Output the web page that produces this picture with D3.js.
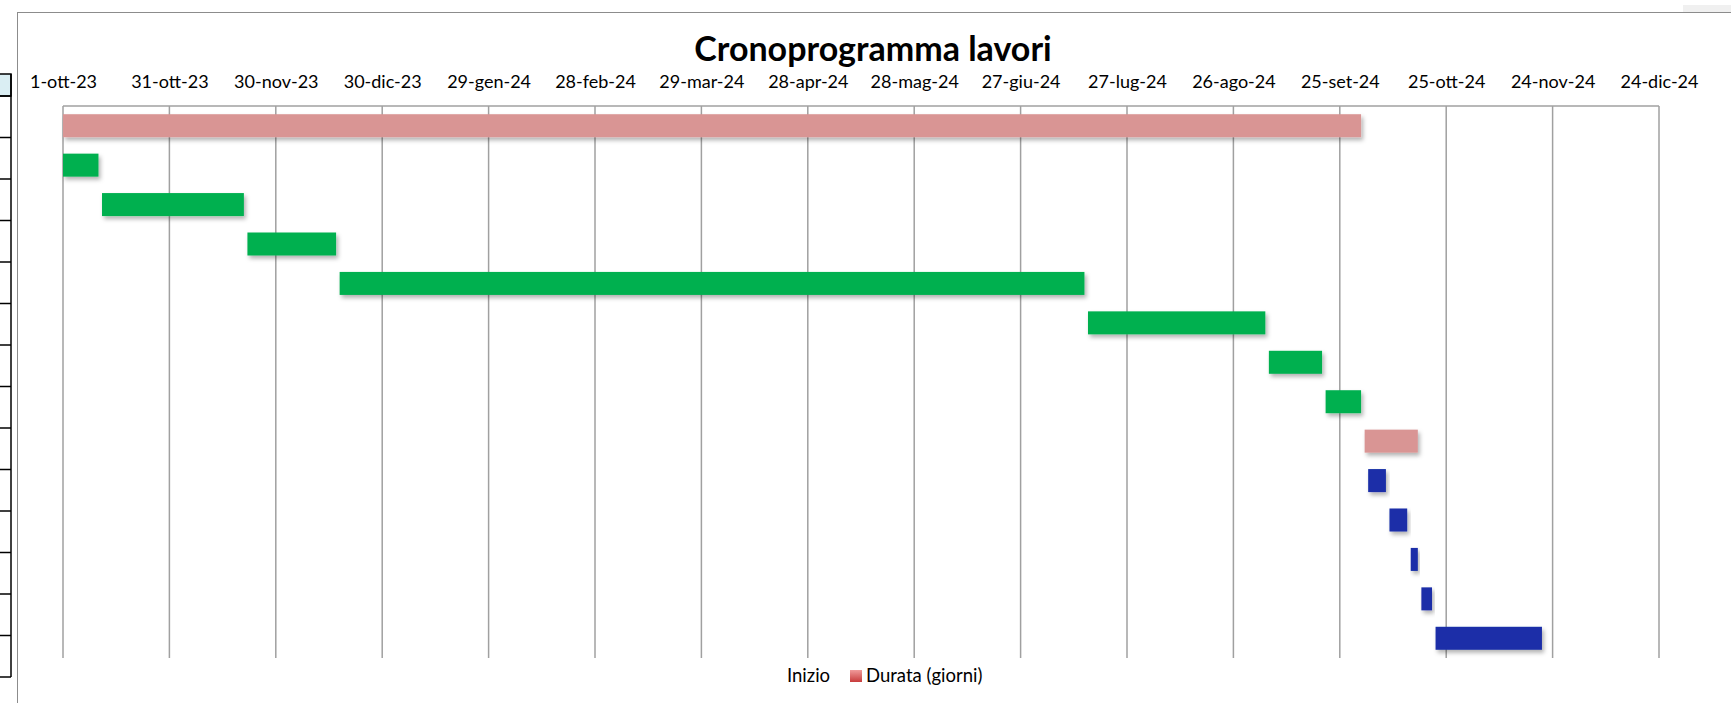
<!DOCTYPE html>
<html lang="it">
<head>
  <meta charset="utf-8">
  <title>Cronoprogramma lavori</title>
  <script src="https://d3js.org/d3.v7.min.js"></script>
  <style>
    html, body {
      margin: 0;
      padding: 0;
      width: 100%;
      height: 100%;
      background: #fff;
      overflow: hidden;
    }
    svg {
      display: block;
      font-family: Lato, "Open Sans", sans-serif;
    }
    .grid line {
      stroke: #a0a0a0;
      stroke-width: 1.5px;
    }
  </style>
</head>
<body>
  <svg></svg>
  <script>
    // Dati del cronoprogramma (inizio e durata in giorni per ogni lavorazione)
    const taskStarts = ["2023-10-01", "2023-10-01", "2023-10-12", "2023-11-22", "2023-12-18",
                        "2024-07-16", "2024-09-05", "2024-09-21", "2024-10-02", "2024-10-03",
                        "2024-10-09", "2024-10-15", "2024-10-18", "2024-10-22"];
    const taskDurations = [366, 10, 40, 25, 210, 50, 15, 10, 15, 5, 5, 2, 3, 30];
    const taskColors = ["#d99594", "#00b050", "#00b050", "#00b050", "#00b050", "#00b050", "#00b050",
                        "#00b050", "#d99594", "#1a2fa8", "#1a2fa8", "#1a2fa8", "#1a2fa8", "#1a2fa8"];
    const axisStart = "2023-10-01";
    const axisEnd = "2024-12-24";
    const tickStepDays = 30;
    const legendItems = ["Inizio", "Durata (giorni)"];

    const width = 1731;
    const height = 703;
    const svg = d3.select("svg").attr("width", width).attr("height", height);

    const it = d3.timeFormatLocale({
      dateTime: "%A %e %B %Y, %X", date: "%d/%m/%Y", time: "%H:%M:%S",
      periods: ["AM", "PM"],
      days: ["domenica", "lunedì", "martedì", "mercoledì", "giovedì", "venerdì", "sabato"],
      shortDays: ["dom", "lun", "mar", "mer", "gio", "ven", "sab"],
      months: ["gennaio", "febbraio", "marzo", "aprile", "maggio", "giugno", "luglio",
               "agosto", "settembre", "ottobre", "novembre", "dicembre"],
      shortMonths: ["gen", "feb", "mar", "apr", "mag", "giu", "lug", "ago", "set", "ott", "nov", "dic"]
    });
    const fmt = it.utcFormat("%-d-%b-%y");
    const parse = d3.utcParse("%Y-%m-%d");

    const tasks = taskStarts.map((s, i) => ({
      id: i,
      start: parse(s),
      end: d3.utcDay.offset(parse(s), taskDurations[i]),
      color: taskColors[i]
    }));

    const x = d3.scaleUtc()
      .domain([parse(axisStart), parse(axisEnd)])
      .range([63, 1659]);

    const pad = 0.4167;
    const y = d3.scaleBand()
      .domain(tasks.map(d => d.id))
      .range([106, 658])
      .paddingInner(pad)
      .paddingOuter(pad / 2);

    // Ombra delle barre
    const defs = svg.append("defs");
    const shadow = defs.append("filter").attr("id", "shadow")
      .attr("x", "-10%").attr("y", "-30%").attr("width", "130%").attr("height", "180%");
    shadow.append("feDropShadow")
      .attr("dx", 2).attr("dy", 3).attr("stdDeviation", 2)
      .attr("flood-color", "#000").attr("flood-opacity", 0.3);

    const grad = defs.append("linearGradient").attr("id", "legendRed")
      .attr("x1", 0).attr("y1", 0).attr("x2", 0).attr("y2", 1);
    grad.append("stop").attr("offset", "0%").attr("stop-color", "#f09a9a");
    grad.append("stop").attr("offset", "100%").attr("stop-color", "#c83c3c");

    // Frammento del foglio a sinistra
    const sheet = svg.append("g");
    sheet.append("rect")
      .attr("x", -2).attr("y", 74).attr("width", 13).attr("height", 22)
      .attr("fill", "#daeef3").attr("stroke", "#000").attr("stroke-width", 1.5);
    const rowLines = d3.range(15).map(k => 96 + k * 41.5);
    sheet.selectAll("line.row").data(rowLines).enter().append("line")
      .attr("x1", 0).attr("x2", 11)
      .attr("y1", d => d).attr("y2", d => d)
      .attr("stroke", "#000").attr("stroke-width", 1.5);
    sheet.append("line")
      .attr("x1", 11).attr("x2", 11).attr("y1", 74).attr("y2", 677)
      .attr("stroke", "#000").attr("stroke-width", 1.5);

    // Cornice del grafico
    svg.append("rect")
      .attr("x", 17.5).attr("y", 12.5).attr("width", width).attr("height", height)
      .attr("fill", "none").attr("stroke", "#8c8c8c").attr("stroke-width", 1);
    svg.append("rect")
      .attr("x", 1683).attr("y", 5).attr("width", 60).attr("height", 7)
      .attr("fill", "#f0f0f0");

    // Titolo
    svg.append("text")
      .attr("x", 873).attr("y", 61)
      .attr("text-anchor", "middle")
      .style("font-size", "34px").style("font-weight", "bold")
      .text("Cronoprogramma lavori");

    // Griglia e asse delle date
    const tickValues = d3.range(0, d3.utcDay.count(parse(axisStart), parse(axisEnd)) + 1, tickStepDays)
      .map(d => d3.utcDay.offset(parse(axisStart), d));

    const grid = svg.append("g").attr("class", "grid");
    grid.selectAll("line").data(tickValues).enter().append("line")
      .attr("x1", d => x(d)).attr("x2", d => x(d))
      .attr("y1", y.range()[0]).attr("y2", y.range()[1]);
    grid.append("line")
      .attr("x1", x.range()[0]).attr("x2", x.range()[1])
      .attr("y1", y.range()[0]).attr("y2", y.range()[0]);

    const axis = svg.append("g")
      .attr("transform", `translate(0,${y.range()[0]})`)
      .call(d3.axisTop(x).tickValues(tickValues).tickFormat(fmt).tickSize(0).tickPadding(18));
    axis.select(".domain").remove();
    axis.selectAll("text")
      .attr("fill", "#000")
      .style("font-family", "Lato, sans-serif")
      .style("font-size", "18px");

    // Barre
    svg.append("g")
      .selectAll("rect")
      .data(tasks)
      .enter()
      .append("rect")
      .attr("x", d => x(d.start))
      .attr("y", d => y(d.id))
      .attr("width", d => x(d.end) - x(d.start))
      .attr("height", y.bandwidth())
      .attr("fill", d => d.color)
      .attr("filter", "url(#shadow)");

    // Legenda
    const legend = svg.append("g").style("font-size", "18.5px");
    legend.append("text").attr("x", 787).attr("y", 682).text(legendItems[0]);
    legend.append("rect")
      .attr("x", 850).attr("y", 670).attr("width", 12).attr("height", 12)
      .attr("fill", "url(#legendRed)");
    legend.append("text").attr("x", 866).attr("y", 682).text(legendItems[1]);
  </script>
</body>
</html>
